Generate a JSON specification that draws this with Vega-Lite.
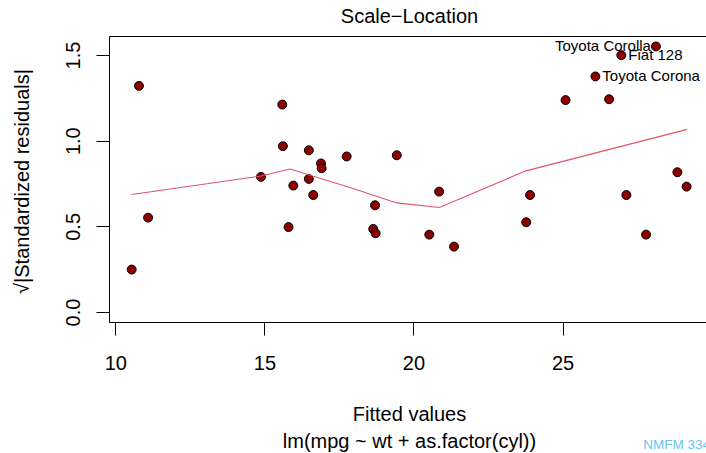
{
  "$schema": "https://vega.github.io/schema/vega-lite/v6.json",
  "width": 597,
  "height": 286,
  "autosize": {"type": "none"},
  "padding": {"left": 109, "top": 36, "right": 0, "bottom": 131},
  "background": "white",
  "title": {"text": "NMFM 334", "orient": "bottom", "anchor": "end", "frame": "group", "font": "Liberation Sans", "fontSize": 13.5, "fontWeight": "normal", "color": "#69C3EC", "baseline": "alphabetic", "offset": -2, "dx": 4},
  "config": {
    "view": {"stroke": null},
    "font": "Liberation Sans",
    "axis": {"domainColor": "black", "tickColor": "black", "labelColor": "black", "titleColor": "black", "labelFont": "Liberation Sans", "titleFont": "Liberation Sans", "labelFontSize": 20, "titleFontSize": 20, "titleFontWeight": "normal", "grid": false, "domainWidth": 1, "tickWidth": 1}
  },
  "datasets": {
    "points": [
      {"fitted": 10.795, "sqrt_std_resid": 1.320, "label": ""},
      {"fitted": 10.55, "sqrt_std_resid": 0.248, "label": ""},
      {"fitted": 11.10, "sqrt_std_resid": 0.551, "label": ""},
      {"fitted": 14.886, "sqrt_std_resid": 0.789, "label": ""},
      {"fitted": 15.60, "sqrt_std_resid": 1.211, "label": ""},
      {"fitted": 15.62, "sqrt_std_resid": 0.968, "label": ""},
      {"fitted": 15.97, "sqrt_std_resid": 0.738, "label": ""},
      {"fitted": 15.81, "sqrt_std_resid": 0.496, "label": ""},
      {"fitted": 16.49, "sqrt_std_resid": 0.944, "label": ""},
      {"fitted": 16.49, "sqrt_std_resid": 0.777, "label": ""},
      {"fitted": 16.64, "sqrt_std_resid": 0.683, "label": ""},
      {"fitted": 16.90, "sqrt_std_resid": 0.867, "label": ""},
      {"fitted": 16.92, "sqrt_std_resid": 0.839, "label": ""},
      {"fitted": 17.76, "sqrt_std_resid": 0.908, "label": ""},
      {"fitted": 19.44, "sqrt_std_resid": 0.915, "label": ""},
      {"fitted": 18.71, "sqrt_std_resid": 0.623, "label": ""},
      {"fitted": 18.65, "sqrt_std_resid": 0.485, "label": ""},
      {"fitted": 18.73, "sqrt_std_resid": 0.460, "label": ""},
      {"fitted": 20.86, "sqrt_std_resid": 0.703, "label": ""},
      {"fitted": 20.53, "sqrt_std_resid": 0.452, "label": ""},
      {"fitted": 21.36, "sqrt_std_resid": 0.382, "label": ""},
      {"fitted": 23.91, "sqrt_std_resid": 0.683, "label": ""},
      {"fitted": 23.78, "sqrt_std_resid": 0.524, "label": ""},
      {"fitted": 25.10, "sqrt_std_resid": 1.237, "label": ""},
      {"fitted": 26.56, "sqrt_std_resid": 1.242, "label": ""},
      {"fitted": 26.10, "sqrt_std_resid": 1.375, "label": "Toyota Corona"},
      {"fitted": 26.97, "sqrt_std_resid": 1.499, "label": "Fiat 128"},
      {"fitted": 28.13, "sqrt_std_resid": 1.550, "label": "Toyota Corolla"},
      {"fitted": 27.14, "sqrt_std_resid": 0.683, "label": ""},
      {"fitted": 27.80, "sqrt_std_resid": 0.452, "label": ""},
      {"fitted": 28.85, "sqrt_std_resid": 0.816, "label": ""},
      {"fitted": 29.16, "sqrt_std_resid": 0.732, "label": ""}
    ],
    "smooth": [
      {"fitted": 10.55, "sqrt_std_resid": 0.686},
      {"fitted": 14.886, "sqrt_std_resid": 0.794},
      {"fitted": 15.86, "sqrt_std_resid": 0.835},
      {"fitted": 17.87, "sqrt_std_resid": 0.727},
      {"fitted": 19.44, "sqrt_std_resid": 0.637},
      {"fitted": 20.87, "sqrt_std_resid": 0.610},
      {"fitted": 23.77, "sqrt_std_resid": 0.824},
      {"fitted": 29.18, "sqrt_std_resid": 1.066}
    ]
  },
  "layer": [
    {
      "data": {"name": "points"},
      "mark": {"type": "circle", "fill": "#8B0000", "stroke": "black", "strokeWidth": 1, "opacity": 1, "fillOpacity": 1, "size": 80},
      "encoding": {
        "x": {"field": "fitted", "type": "quantitative",
          "scale": {"domain": [9.789, 29.81], "nice": false, "zero": false},
          "axis": {"orient": "bottom", "values": [10, 15, 20, 25], "tickSize": 13, "labelPadding": 18, "labelFlush": false, "labelOverlap": false,
            "title": ["Fitted values", "lm(mpg ~ wt + as.factor(cyl))"], "titleX": 300, "titleY": 98, "titleAlign": "center", "titleBaseline": "alphabetic", "titleLineHeight": 27}},
        "y": {"field": "sqrt_std_resid", "type": "quantitative",
          "scale": {"domain": [-0.058, 1.611], "nice": false, "zero": false},
          "axis": {"orient": "left", "values": [0, 0.5, 1, 1.5], "format": ".1f", "tickSize": 13, "labelAngle": -90, "labelAlign": "center", "labelBaseline": "alphabetic", "labelPadding": 17, "labelOverlap": false,
            "title": "√|Standardized residuals|", "titleAngle": -90, "titleX": -80.7, "titleY": 145, "titleAlign": "center", "titleBaseline": "alphabetic"}}
      }
    },
    {
      "data": {"name": "smooth"},
      "mark": {"type": "line", "color": "#DF536B", "strokeWidth": 1.1},
      "encoding": {
        "x": {"field": "fitted", "type": "quantitative",
          "scale": {"domain": [9.789, 29.81], "nice": false, "zero": false},
          "axis": {"orient": "top", "domain": true, "ticks": false, "labels": false, "title": "Scale−Location", "titleX": 300, "titleY": -14, "titleAlign": "center", "titleBaseline": "alphabetic"}},
        "y": {"field": "sqrt_std_resid", "type": "quantitative",
          "scale": {"domain": [-0.058, 1.611], "nice": false, "zero": false},
          "axis": {"orient": "left", "values": [0, 0.5, 1, 1.5], "format": ".1f", "tickSize": 13, "labelAngle": -90, "labelAlign": "center", "labelBaseline": "alphabetic", "labelPadding": 17, "labelOverlap": false,
            "title": "√|Standardized residuals|", "titleAngle": -90, "titleX": -80.7, "titleY": 145, "titleAlign": "center", "titleBaseline": "alphabetic"}}
      }
    },
    {
      "data": {"name": "points"},
      "transform": [{"filter": "datum.label != '' && datum.label != 'Toyota Corolla'"}],
      "mark": {"type": "text", "align": "left", "baseline": "middle", "dx": 7, "fontSize": 15, "font": "Liberation Sans", "color": "black"},
      "encoding": {
        "x": {"field": "fitted", "type": "quantitative", "scale": {"domain": [9.789, 29.81], "nice": false, "zero": false}, "axis": null},
        "y": {"field": "sqrt_std_resid", "type": "quantitative",
          "scale": {"domain": [-0.058, 1.611], "nice": false, "zero": false},
          "axis": {"orient": "left", "values": [0, 0.5, 1, 1.5], "format": ".1f", "tickSize": 13, "labelAngle": -90, "labelAlign": "center", "labelBaseline": "alphabetic", "labelPadding": 17, "labelOverlap": false,
            "title": "√|Standardized residuals|", "titleAngle": -90, "titleX": -80.7, "titleY": 145, "titleAlign": "center", "titleBaseline": "alphabetic"}},
        "text": {"field": "label"}
      }
    },
    {
      "data": {"name": "points"},
      "transform": [{"filter": "datum.label == 'Toyota Corolla'"}],
      "mark": {"type": "text", "align": "right", "baseline": "middle", "dx": -5, "fontSize": 15, "font": "Liberation Sans", "color": "black"},
      "encoding": {
        "x": {"field": "fitted", "type": "quantitative", "scale": {"domain": [9.789, 29.81], "nice": false, "zero": false}, "axis": null},
        "y": {"field": "sqrt_std_resid", "type": "quantitative",
          "scale": {"domain": [-0.058, 1.611], "nice": false, "zero": false},
          "axis": {"orient": "left", "values": [0, 0.5, 1, 1.5], "format": ".1f", "tickSize": 13, "labelAngle": -90, "labelAlign": "center", "labelBaseline": "alphabetic", "labelPadding": 17, "labelOverlap": false,
            "title": "√|Standardized residuals|", "titleAngle": -90, "titleX": -80.7, "titleY": 145, "titleAlign": "center", "titleBaseline": "alphabetic"}},
        "text": {"field": "label"}
      }
    }
  ]
}
